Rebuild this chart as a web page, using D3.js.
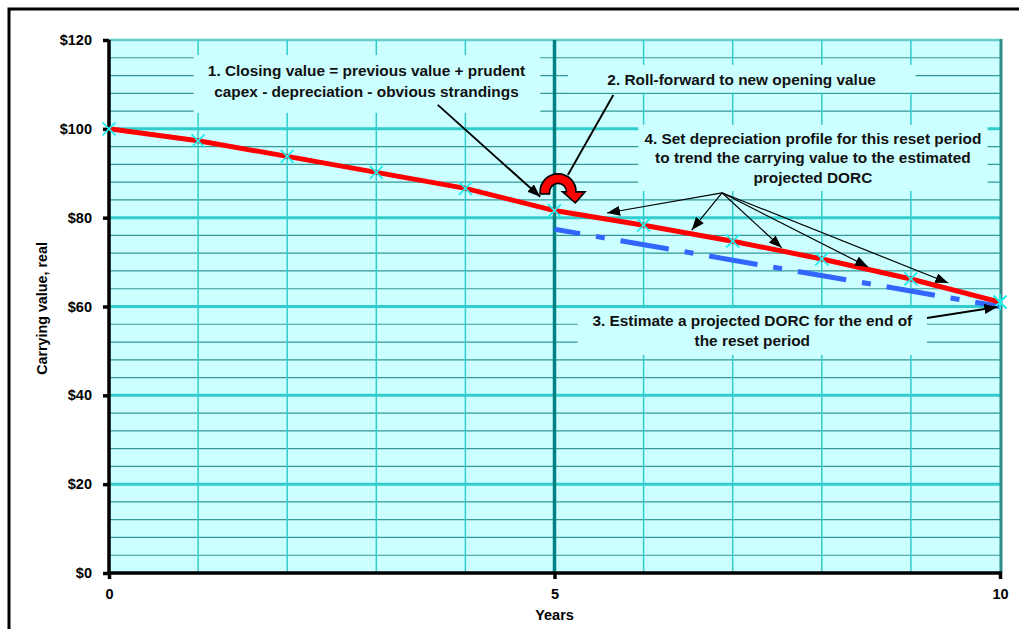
<!DOCTYPE html>
<html>
<head>
<meta charset="utf-8">
<script src="https://cdn.jsdelivr.net/npm/d3@7"></script>
<style>
  html, body { margin: 0; padding: 0; background: #fff; }
  svg { display: block; font-family: "Liberation Sans", Arial, sans-serif; }
</style>
</head>
<body>
<svg id="chart" width="1019" height="629"></svg>
<script>
// Carrying value roll-forward over two regulatory periods
const years = [0, 1, 2, 3, 4, 5, 6, 7, 8, 9, 10];
const carryingValue = [100, 97.3, 93.8, 90.2, 86.6, 81.6, 78.3, 74.7, 70.7, 66.2, 61.0];
const dorcYears = [5, 10];
const dorcValue = [77.4, 60.0];
const yTicks = [0, 20, 40, 60, 80, 100, 120];
const xTicks = [0, 5, 10];

// Callout boxes: [x0, x1] in years, [top, bottom] in $, text lines
const notes = [
  { x: [0.95, 4.84], y: [116.6, 103.6], cx: 2.89, lines: ["1. Closing value = previous value + prudent", "capex - depreciation - obvious strandings"], ly: [113.1, 108.4] },
  { x: [5.15, 9.05], y: [114.4, 108.2], cx: 7.1, lines: ["2. Roll-forward to new opening value"], ly: [111.2] },
  { x: [5.94, 9.86], y: [100.9, 86.0], cx: 7.9, lines: ["4. Set depreciation profile for this reset period", "to trend the carrying value to the estimated", "projected DORC"], ly: [97.9, 93.6, 89.1] },
  { x: [5.26, 9.18], y: [59.6, 49.1], cx: 7.22, lines: ["3. Estimate a projected DORC for the end of", "the reset period"], ly: [56.9, 52.4] }
];

// Pointer arrows: [fromYear, fromValue, toYear, toValue, hasHead]
const pointers = [
  [3.69, 105.4, 4.84, 84.7, true],
  [5.66, 107.6, 5.15, 89.6, false],
  [6.88, 85.6, 5.59, 81.05, true],
  [6.88, 85.6, 6.54, 77.2, true],
  [6.88, 85.6, 7.55, 73.2, true],
  [6.88, 85.6, 8.52, 68.9, true],
  [6.88, 85.6, 9.42, 65.3, true],
  [9.18, 57.4, 9.97, 59.9, true]
];
const turnArrowAt = [5.04, 85.8];

const svg = d3.select("#chart");
const pL = 109, pR = 1000, pT = 40, pB = 573;

const x = d3.scaleLinear().domain([0, 10]).range([pL, pR]);
const y = d3.scaleLinear().domain([0, 120]).range([pB, pT]);

// outer frame
svg.append("rect").attr("x", 9).attr("y", 9).attr("width", 1030).attr("height", 640)
  .attr("fill", "#fff").attr("stroke", "#000").attr("stroke-width", 3);

// plot background
svg.append("rect").attr("x", pL).attr("y", pT).attr("width", pR - pL).attr("height", pB - pT)
  .attr("fill", "#CCFFFF");

const grid = svg.append("g");
// minor horizontal grid every $4
d3.range(4, 120, 4).filter(v => v % 20 !== 0).forEach(v => {
  grid.append("line").attr("x1", pL).attr("x2", pR).attr("y1", y(v)).attr("y2", y(v))
    .attr("stroke", "#339999").attr("stroke-width", 1.2);
});
// major horizontal grid every $20
yTicks.filter(v => v > 0 && v < 120).forEach(v => {
  grid.append("line").attr("x1", pL).attr("x2", pR).attr("y1", y(v)).attr("y2", y(v))
    .attr("stroke", "#33CCCC").attr("stroke-width", 3);
});
grid.append("line").attr("x1", pL).attr("x2", pR).attr("y1", y(120)).attr("y2", y(120))
  .attr("stroke", "#66CCCC").attr("stroke-width", 2.5);
// vertical grid each year
d3.range(1, 10).filter(v => v !== 5).forEach(v => {
  grid.append("line").attr("x1", x(v)).attr("x2", x(v)).attr("y1", pT).attr("y2", pB)
    .attr("stroke", "#33CCCC").attr("stroke-width", 1.5);
});

// callout backgrounds hide the grid behind the text
notes.forEach(n => {
  svg.append("rect").attr("x", x(n.x[0])).attr("y", y(n.y[0]))
    .attr("width", x(n.x[1]) - x(n.x[0])).attr("height", y(n.y[1]) - y(n.y[0]))
    .attr("fill", "#CCFFFF");
});

// reset boundary and right edge
svg.append("line").attr("x1", x(5)).attr("x2", x(5)).attr("y1", pT).attr("y2", pB)
  .attr("stroke", "#008080").attr("stroke-width", 3.5);
svg.append("line").attr("x1", x(10) + 1).attr("x2", x(10) + 1).attr("y1", pT - 1).attr("y2", pB)
  .attr("stroke", "#2E8B8B").attr("stroke-width", 3);

// axes
const yAxis = svg.append("g").attr("transform", `translate(${pL},0)`)
  .call(d3.axisLeft(y).tickValues(yTicks).tickSize(6).tickPadding(11).tickFormat(d => "$" + d));
const xAxis = svg.append("g").attr("transform", `translate(0,${pB})`)
  .call(d3.axisBottom(x).tickValues(xTicks).tickSize(6).tickPadding(10).tickFormat(d3.format("d")));
[yAxis, xAxis].forEach(a => {
  a.select(".domain").attr("stroke", "#000").attr("stroke-width", 3.5);
  a.selectAll(".tick line").attr("stroke", "#000").attr("stroke-width", 3.5);
  a.selectAll(".tick text").attr("font-size", 14.5).attr("font-weight", "bold")
    .attr("font-family", "'Liberation Sans', Arial, sans-serif").attr("fill", "#000");
});
yAxis.select(".domain").attr("d", `M0,${pB}V${pT}`);
xAxis.select(".domain").attr("d", `M${pL},0H${pR + 2}`);

svg.append("text").attr("x", x(5)).attr("y", 620).attr("text-anchor", "middle")
  .attr("font-size", 14.5).attr("font-weight", "bold").text("Years");
svg.append("text").attr("transform", `translate(47,${(pT + pB) / 2 + 2}) rotate(-90)`)
  .attr("text-anchor", "middle").attr("font-size", 14.3).attr("font-weight", "bold")
  .text("Carrying value, real");

// projected DORC trend
svg.append("path")
  .datum(dorcYears.map((d, i) => [d, dorcValue[i]]))
  .attr("d", d3.line().x(d => x(d[0])).y(d => y(d[1])))
  .attr("fill", "none").attr("stroke", "#3366FF").attr("stroke-width", 5)
  .attr("stroke-dasharray", "49 16 9 16").attr("stroke-dashoffset", 23);

// carrying value
svg.append("path")
  .datum(years.map((d, i) => [d, carryingValue[i]]))
  .attr("d", d3.line().x(d => x(d[0])).y(d => y(d[1])))
  .attr("fill", "none").attr("stroke", "#FF0000").attr("stroke-width", 5);

// markers
const m = 6.5;
svg.append("g").selectAll("path").data(years.map((d, i) => [d, carryingValue[i]]))
  .join("path")
  .attr("d", d => { const px = x(d[0]), py = y(d[1]);
    return `M${px - m},${py - m}L${px + m},${py + m}M${px - m},${py + m}L${px + m},${py - m}`; })
  .attr("stroke", "#22EEEE").attr("stroke-width", 1.8).attr("fill", "none");
// end point of DORC trend
const ex = x(dorcYears[1]), ey = y(carryingValue[10]);
svg.append("path")
  .attr("d", `M${ex - m},${ey - m}L${ex + m},${ey + m}M${ex - m},${ey + m}L${ex + m},${ey - m}M${ex},${ey - 8}L${ex},${ey + 8}`)
  .attr("stroke", "#22EEEE").attr("stroke-width", 1.8);

// arrowhead
svg.append("defs").append("marker").attr("id", "head")
  .attr("viewBox", "0 0 13 10").attr("refX", 13).attr("refY", 5)
  .attr("markerWidth", 13).attr("markerHeight", 10).attr("markerUnits", "userSpaceOnUse")
  .attr("orient", "auto")
  .append("path").attr("d", "M0,0L13,5L0,10Z").attr("fill", "#000");

pointers.forEach((p, i) => {
  svg.append("line").attr("x1", x(p[0])).attr("y1", y(p[1])).attr("x2", x(p[2])).attr("y2", y(p[3]))
    .attr("stroke", "#000").attr("stroke-width", i < 2 || i === 7 ? 1.9 : 1.2)
    .attr("marker-end", p[4] ? "url(#head)" : null);
});

// U-turn arrow marking the roll-forward
const cx = x(turnArrowAt[0]), cy = y(turnArrowAt[1]);
const R = 18, r = 8.5;
const turn = `M${cx - R},${cy + 2}L${cx - R},${cy}A${R},${R} 0 0 1 ${cx + R},${cy}` +
  `L${cx + R + 9},${cy}L${cx + (R + r) / 2 + 4},${cy + 11}L${cx + r - 4},${cy}L${cx + r},${cy}` +
  `A${r},${r} 0 0 0 ${cx - r},${cy}L${cx - r},${cy + 2}Z`;
svg.append("path").attr("d", turn).attr("fill", "#FF0000").attr("stroke", "#000")
  .attr("stroke-width", 1.6).attr("stroke-linejoin", "miter");

// callout texts
notes.forEach(n => {
  n.lines.forEach((t, i) => {
    svg.append("text").attr("x", x(n.cx)).attr("y", y(n.ly[i]) + 5.5)
      .attr("text-anchor", "middle").attr("font-size", 15.4).attr("font-weight", "bold")
      .attr("fill", "#111").text(t);
  });
});
</script>
</body>
</html>
